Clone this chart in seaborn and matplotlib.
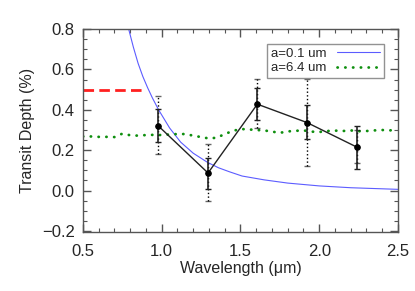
import numpy as np
import pandas as pd
import matplotlib
matplotlib.use('Agg')
import matplotlib.pyplot as plt
from matplotlib.ticker import MultipleLocator
import seaborn as sns

# measured transit depths
wave = [0.976, 1.294, 1.607, 1.922, 2.237]
depth = [0.322, 0.087, 0.428, 0.337, 0.216]
err_lo = [0.240, 0.010, 0.350, 0.255, 0.107]
err_hi = [0.403, 0.161, 0.507, 0.425, 0.322]
# wider (dotted) error ranges
derr_lo = [0.181, -0.053, 0.310, 0.123, 0.137]
derr_hi = [0.468, 0.229, 0.552, 0.553, 0.300]

# model a=0.1 um
wave_a01 = [0.79, 0.82, 0.85, 0.88, 0.91, 0.94, 0.98, 1.05, 1.12, 1.20, 1.29, 1.36, 1.43,
            1.51, 1.65, 1.80, 2.00, 2.20, 2.50]
depth_a01 = [0.80, 0.71, 0.63, 0.565, 0.51, 0.46, 0.40, 0.31, 0.24, 0.185, 0.14, 0.113,
             0.093, 0.072, 0.053, 0.037, 0.023, 0.014, 0.006]

# model a=6.4 um
wave_a64 = [0.50, 0.55, 0.60, 0.65, 0.70, 0.75, 0.80, 0.85, 0.90, 0.95, 1.00, 1.05, 1.10,
            1.15, 1.20, 1.25, 1.30, 1.35, 1.40, 1.45, 1.50, 1.55, 1.60, 1.65, 1.70, 1.75,
            1.80, 1.85, 1.90, 1.95, 2.00, 2.05, 2.10, 2.15, 2.20, 2.25, 2.30, 2.35, 2.40,
            2.45, 2.50]
depth_a64 = [0.268, 0.268, 0.266, 0.266, 0.265, 0.282, 0.274, 0.272, 0.275, 0.276, 0.275,
             0.278, 0.280, 0.280, 0.272, 0.265, 0.258, 0.262, 0.280, 0.295, 0.305, 0.303,
             0.300, 0.298, 0.292, 0.286, 0.293, 0.296, 0.298, 0.292, 0.290, 0.295, 0.297,
             0.295, 0.298, 0.294, 0.295, 0.298, 0.300, 0.298, 0.305]

# red reference level
red_x = [0.5, 0.875]
red_y = [0.5, 0.5]

sns.set_style('ticks')
plt.rcParams['font.family'] = ['Liberation Sans', 'DejaVu Sans']

fig = plt.figure(figsize=(4.15, 2.91), dpi=100)
ax = fig.add_axes([0.2, 0.203, 0.759, 0.697])

df1 = pd.DataFrame({'x': wave_a01, 'y': depth_a01})
df2 = pd.DataFrame({'x': wave_a64, 'y': depth_a64})
sns.lineplot(data=df1, x='x', y='y', ax=ax, color='#5c5cff', lw=0.8, label='a=0.1 um')
sns.lineplot(data=df2, x='x', y='y', ax=ax, color='#0f8f0f', lw=2.0,
             linestyle=(0, (0.1, 2.7)), dash_capstyle='round', label='a=6.4 um')

ax.plot(red_x, red_y, color='#ff2020', lw=2, linestyle=(0, (3.8, 1.9)))

# dotted error bars
w = np.array(wave)
d = np.array(depth)
eb = ax.errorbar(w, d, yerr=[d - np.array(derr_lo), np.array(derr_hi) - d], fmt='none',
                 ecolor='black', elinewidth=1, capsize=2.5, capthick=1)
for c in eb[2]:
    c.set_linestyle(':')
for c in eb[1]:
    c.set_linestyle('none')
    c.set_marker('_')
    c.set_markersize(4)
    c.set_alpha(0.6)

ax.errorbar(w, d, yerr=[d - np.array(err_lo), np.array(err_hi) - d], fmt='none',
            ecolor='#222222', elinewidth=1.2, capsize=2.5, capthick=1)
sns.lineplot(x=wave, y=depth, ax=ax, color='#222222', lw=1, marker='o', markersize=4,
             markeredgecolor='black', markerfacecolor='black')

ax.set_xlim(0.5, 2.5)
ax.set_ylim(-0.205, 0.8)
ax.xaxis.set_major_locator(MultipleLocator(0.5))
ax.xaxis.set_minor_locator(MultipleLocator(0.1))
ax.yaxis.set_major_locator(MultipleLocator(0.2))
ax.yaxis.set_minor_locator(MultipleLocator(0.05))
ax.xaxis.set_major_formatter(matplotlib.ticker.FormatStrFormatter('%.1f'))
ax.yaxis.set_major_formatter(matplotlib.ticker.FuncFormatter(
    lambda v, p: ('%.1f' % v).replace('-', '\u2212')))
ax.tick_params(which='both', direction='in', top=True, right=True, color='#555555',
               labelsize=12, pad=6)
ax.tick_params(axis='x', which='major', pad=9)
ax.tick_params(which='major', length=6, width=1)
ax.tick_params(which='minor', length=3, width=0.8)
for s in ax.spines.values():
    s.set_color('#555555')
    s.set_linewidth(1)

ax.set_xlabel('Wavelength (\u03bcm)', fontsize=11.5, labelpad=1)
ax.set_ylabel('Transit Depth (%)', fontsize=11.5, labelpad=5)

leg = ax.legend(loc='upper right', bbox_to_anchor=(0.975, 0.96), markerfirst=False,
                fontsize=9.5, frameon=True, fancybox=False, handlelength=3.2,
                borderpad=0.3, labelspacing=0.15, handletextpad=0.8)
leg.get_frame().set_edgecolor('#777777')
leg.get_frame().set_linewidth(1)

fig.savefig('out.png', dpi=100)
